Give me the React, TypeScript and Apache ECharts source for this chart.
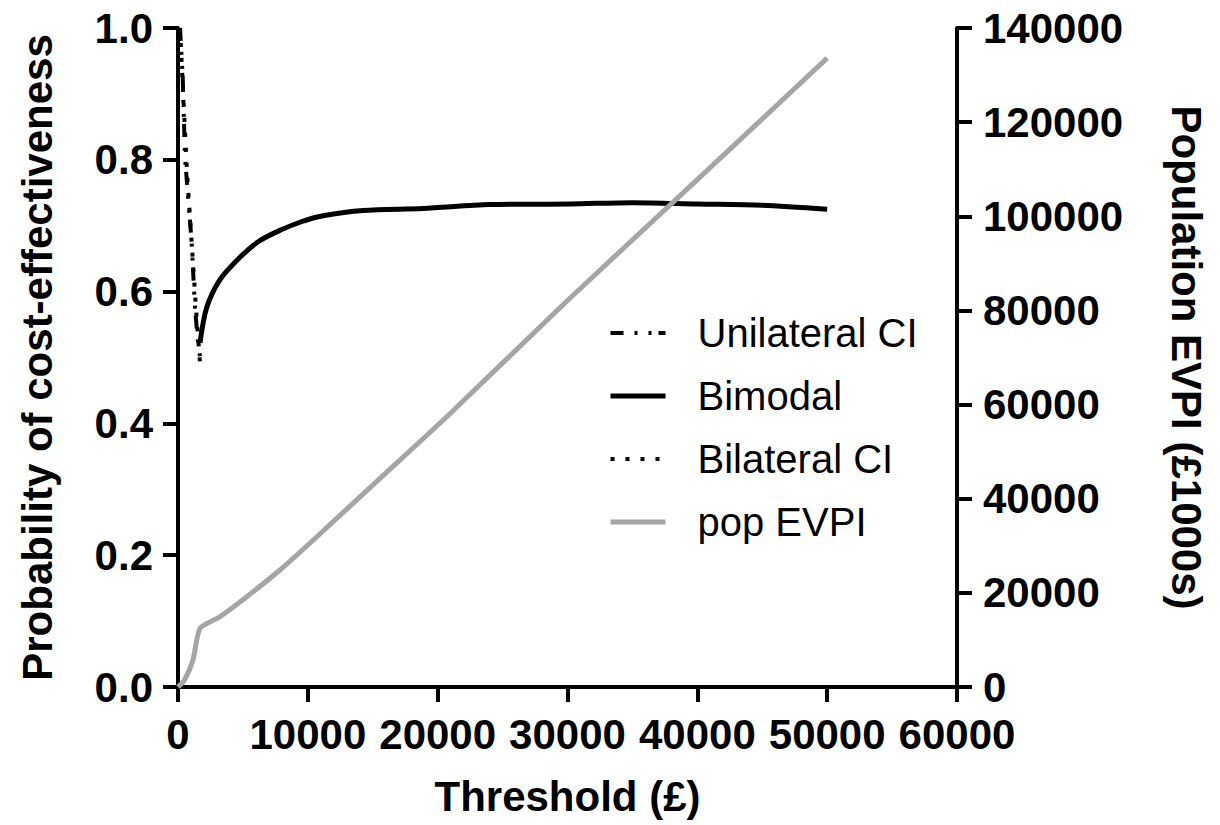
import React, { useEffect, useRef } from "react";
import * as echarts from "echarts";

const xTicks = [0, 10000, 20000, 30000, 40000, 50000, 60000];

const uniX = [154, 362, 539, 1055, 1310, 1540, 1695];
const uniY = [1.0, 0.926, 0.804, 0.674, 0.574, 0.524, 0.501];

const bimX = [1695, 2200, 3235, 4776, 6200, 7858, 9500, 11171, 14253, 18875, 24037, 30200, 35000, 40000, 45000, 50000];
const bimY = [0.522, 0.575, 0.618, 0.652, 0.676, 0.693, 0.706, 0.715, 0.723, 0.726, 0.732, 0.733, 0.735, 0.733, 0.731, 0.725];

const bilX = [154, 400, 700, 1100, 1400, 1700];
const bilY = [1.0, 0.9, 0.78, 0.66, 0.57, 0.49];

const evpiX = [0, 500, 1150, 1700, 3236, 5293, 7858, 10424, 15562, 20701, 30000, 40000, 50000];
const evpiY = [0, 1500, 5700, 12470, 14935, 19183, 24856, 31229, 44337, 57424, 82100, 107800, 133600];

const names = ["Unilateral CI", "Bimodal", "Bilateral CI", "pop EVPI"];

const zip = (xs: number[], ys: number[]) => xs.map((x, i) => [x, ys[i]]);

const FONT = "Arial, 'Liberation Sans', Helvetica, sans-serif";

export default function App() {
  const ref = useRef<HTMLDivElement>(null);
  useEffect(() => {
    if (!ref.current) return;
    const chart = echarts.init(ref.current, null, { renderer: "svg" });
    const axisCommon = {
      axisLine: { show: true, lineStyle: { color: "#000", width: 4 } },
      axisTick: { show: true, inside: false, length: 15, lineStyle: { color: "#000", width: 4 } },
      splitLine: { show: false },
      nameTextStyle: { color: "#000", fontSize: 42, fontWeight: "bold", fontFamily: FONT },
    };
    const labelCommon = { color: "#000", fontSize: 42, fontWeight: "bold", fontFamily: FONT };
    const legendWidths = [4, 5, 4, 5];
    const legendTypes: any[] = [[13, 11, 3, 11, 3, 7], "solid", [4, 11], "solid"];
    const legendColors = ["#000", "#000", "#000", "#a5a5a5"];
    chart.setOption({
      animation: false,
      backgroundColor: "#fff",
      grid: { left: 178, right: 263, top: 28, bottom: 138, containLabel: false },
      legend: {
        data: names.map((n, i) => ({
          name: n,
          lineStyle: { width: legendWidths[i], type: legendTypes[i], color: legendColors[i] },
        })),
        orient: "vertical",
        left: 608,
        top: 312,
        padding: 0,
        itemWidth: 55,
        itemHeight: 14,
        itemGap: 21,
        itemStyle: { opacity: 0 },
        textStyle: { color: "#000", fontSize: 40, fontFamily: FONT, lineHeight: 42, padding: [0, 0, 0, 27] },
      },
      xAxis: {
        type: "value",
        min: 0,
        max: 60000,
        interval: 10000,
        name: "Threshold (£)",
        nameLocation: "middle",
        nameGap: 88,
        ...axisCommon,
        axisLabel: { ...labelCommon, margin: 26, formatter: (v: number) => (xTicks.includes(v) ? String(v) : "") },
      },
      yAxis: [
        {
          type: "value",
          min: 0,
          max: 1,
          interval: 0.2,
          position: "left",
          name: "Probability of cost-effectiveness",
          nameLocation: "middle",
          nameGap: 120,
          ...axisCommon,
          axisLabel: { ...labelCommon, margin: 25, formatter: (v: number) => v.toFixed(1) },
        },
        {
          type: "value",
          min: 0,
          max: 140000,
          interval: 20000,
          position: "right",
          name: "Population EVPI (£1000s)",
          nameLocation: "middle",
          nameRotate: -90,
          nameGap: 208,
          ...axisCommon,
          axisLabel: { ...labelCommon, margin: 26, formatter: (v: number) => String(v) },
        },
      ],
      series: [
        {
          name: names[0],
          type: "line",
          yAxisIndex: 0,
          data: zip(uniX, uniY),
          showSymbol: false,
          symbol: "none",
          itemStyle: { color: "#000" },
          lineStyle: { color: "#000", width: 4, type: [13, 11, 3, 11, 3, 7] },
        },
        {
          name: names[1],
          type: "line",
          yAxisIndex: 0,
          data: zip(bimX, bimY),
          smooth: 0.3,
          showSymbol: false,
          symbol: "none",
          itemStyle: { color: "#000" },
          lineStyle: { color: "#000", width: 5, type: "solid" },
        },
        {
          name: names[2],
          type: "line",
          yAxisIndex: 0,
          data: zip(bilX, bilY),
          showSymbol: false,
          symbol: "none",
          itemStyle: { color: "#000" },
          lineStyle: { color: "#000", width: 4, type: [4, 11] },
        },
        {
          name: names[3],
          type: "line",
          yAxisIndex: 1,
          data: zip(evpiX, evpiY),
          smooth: 0.2,
          showSymbol: false,
          symbol: "none",
          itemStyle: { color: "#a5a5a5" },
          lineStyle: { color: "#a5a5a5", width: 5, type: "solid" },
        },
      ],
    });
    return () => chart.dispose();
  }, []);
  return (
    <div
      ref={ref}
      style={{ position: "fixed", left: 0, top: 0, width: 1220, height: 825, background: "#fff" }}
    />
  );
}
